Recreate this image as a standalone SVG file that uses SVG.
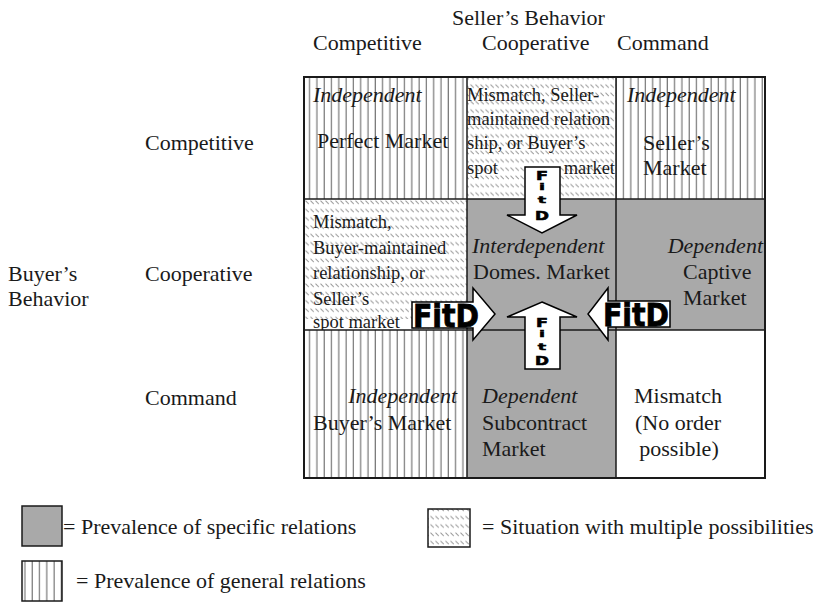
<svg xmlns="http://www.w3.org/2000/svg" width="829" height="604" viewBox="0 0 829 604">
<defs>
<style>
.t{font-family:"Liberation Serif","Times New Roman",serif;font-size:22px;fill:#1a1a1a}
.s{font-family:"Liberation Serif","Times New Roman",serif;font-size:18.5px;fill:#1a1a1a}
.i{font-style:italic}
.grid{fill:none;stroke:#1a1a1a;stroke-width:1.5}
.arrow{fill:#fff;stroke:#000;stroke-width:1.5;stroke-linejoin:miter}
.fitd{font-family:"DejaVu Sans","Liberation Sans",sans-serif;font-weight:bold;fill:#000;stroke:#000;stroke-width:0.8}
.gray{fill:#a9a9a9}
.vert{fill:url(#vlines)}
.hatch{fill:url(#hatch)}
</style>
<pattern id="vlines" patternUnits="userSpaceOnUse" width="7.3" height="10">
<rect width="7.3" height="10" fill="#fff"/>
<line x1="3" y1="0" x2="3" y2="10" stroke="#6a6a6a" stroke-width="1.1"/>
</pattern>
<pattern id="hatch" patternUnits="userSpaceOnUse" width="5" height="8.3">
<rect width="5" height="8.3" fill="#fff"/>
<line x1="0.5" y1="1.5" x2="3.8" y2="4.8" stroke="#9a9a9a" stroke-width="1"/>
</pattern>
</defs>
<rect width="829" height="604" fill="#fff"/>

<g id="headers">
<text class="t" x="452" y="25">Seller’s Behavior</text>
<text class="t" x="313" y="50">Competitive</text>
<text class="t" x="482" y="50">Cooperative</text>
<text class="t" x="617" y="50">Command</text>
<text class="t" x="145" y="150">Competitive</text>
<text class="t" x="145" y="281">Cooperative</text>
<text class="t" x="145" y="405">Command</text>
<text class="t" x="8" y="281">Buyer’s</text>
<text class="t" x="8" y="306">Behavior</text>
</g>

<g id="cell-perfect-market">
<rect class="vert" x="304" y="77" width="163" height="122"/>
<text class="t i" x="313" y="102">Independent</text>
<text class="t" x="317" y="148">Perfect Market</text>
</g>

<g id="cell-seller-mismatch">
<rect class="hatch" x="467" y="77" width="149" height="122"/>
<text class="s" x="467" y="101">Mismatch, Seller-</text>
<text class="s" x="467" y="125">maintained relation</text>
<text class="s" x="467" y="149">ship, or Buyer’s</text>
<text class="s" x="467" y="174">spot</text>
<text class="s" x="615" y="174" text-anchor="end">market</text>
</g>

<g id="cell-sellers-market">
<rect class="vert" x="616" y="77" width="149" height="122"/>
<text class="t i" x="627" y="102">Independent</text>
<text class="t" x="643" y="150">Seller’s</text>
<text class="t" x="643" y="175">Market</text>
</g>

<g id="cell-buyer-mismatch">
<rect class="hatch" x="304" y="199" width="163" height="131"/>
<rect x="305" y="319" width="107" height="10" fill="#fff"/>
<text class="s" x="313" y="228">Mismatch,</text>
<text class="s" x="313" y="254">Buyer-maintained</text>
<text class="s" x="313" y="279">relationship, or</text>
<text class="s" x="313" y="305">Seller’s</text>
<text class="s" x="313" y="328">spot market</text>
</g>

<g id="cell-domestic-market">
<rect class="gray" x="467" y="199" width="149" height="131"/>
<text class="t i" x="472" y="253">Interdependent</text>
<text class="t" x="473" y="279">Domes. Market</text>
</g>

<g id="cell-captive-market">
<rect class="gray" x="616" y="199" width="149" height="131"/>
<text class="t i" x="763" y="253" text-anchor="end">Dependent</text>
<text class="t" x="683" y="279">Captive</text>
<text class="t" x="683" y="305">Market</text>
</g>

<g id="cell-buyers-market">
<rect class="vert" x="304" y="330" width="163" height="148"/>
<text class="t i" x="457" y="403" text-anchor="end">Independent</text>
<text class="t" x="313" y="430">Buyer’s Market</text>
</g>

<g id="cell-subcontract-market">
<rect class="gray" x="467" y="330" width="149" height="148"/>
<text class="t i" x="482" y="403">Dependent</text>
<text class="t" x="482" y="430">Subcontract</text>
<text class="t" x="482" y="456">Market</text>
</g>

<g id="cell-no-order">
<rect x="616" y="330" width="149" height="148" fill="#fff"/>
<text class="t" x="678" y="403" text-anchor="middle">Mismatch</text>
<text class="t" x="678" y="430" text-anchor="middle">(No order</text>
<text class="t" x="679" y="456" text-anchor="middle">possible)</text>
</g>

<g id="grid-lines">
<line class="grid" x1="467" y1="77" x2="467" y2="478"/>
<line class="grid" x1="616" y1="77" x2="616" y2="478"/>
<line class="grid" x1="304" y1="199" x2="765" y2="199"/>
<line class="grid" x1="304" y1="330" x2="765" y2="330"/>
<rect x="304" y="77" width="461" height="401" fill="none" stroke="#1a1a1a" stroke-width="2"/>
</g>

<g id="connectors">
<g id="arrow-down">
<polygon class="arrow" points="525,167 560,167 560,215 577,215 542,233 507,215 525,215"/>
<text class="fitd" font-size="16" text-anchor="middle" transform="translate(542,180) scale(1.1,0.8)">F</text>
<text class="fitd" font-size="16" text-anchor="middle" transform="translate(542,190) scale(1.1,0.5)">i</text>
<text class="fitd" font-size="16" text-anchor="middle" transform="translate(542,203) scale(1.1,0.6)">t</text>
<text class="fitd" font-size="16" text-anchor="middle" transform="translate(542,220) scale(1.05,0.8)">D</text>
</g>
<g id="arrow-up">
<polygon class="arrow" points="542,302 577,317 560,317 560,369 525,369 525,317 507,317"/>
<text class="fitd" font-size="16" text-anchor="middle" transform="translate(542,327) scale(1.1,0.8)">F</text>
<text class="fitd" font-size="16" text-anchor="middle" transform="translate(542,337) scale(1.1,0.5)">i</text>
<text class="fitd" font-size="16" text-anchor="middle" transform="translate(542,350) scale(1.1,0.6)">t</text>
<text class="fitd" font-size="16" text-anchor="middle" transform="translate(542,365) scale(1.05,0.8)">D</text>
</g>
<g id="arrow-right">
<polygon class="arrow" points="412,302 473,302 473,288 495,314 473,340 473,328 412,328"/>
<text class="fitd" font-size="32" x="413" y="327" textLength="66" lengthAdjust="spacingAndGlyphs">FitD</text>
</g>
<g id="arrow-left">
<polygon class="arrow" points="670,301 608,301 608,288 588,314 608,340 608,327 670,327"/>
<text class="fitd" font-size="32" x="603" y="326" textLength="66" lengthAdjust="spacingAndGlyphs">FitD</text>
</g>
</g>

<g id="legend-specific">
<rect class="gray" x="22" y="506" width="40" height="40" stroke="#1a1a1a" stroke-width="1.5"/>
<text class="t" x="63" y="534">= Prevalence of specific relations</text>
</g>
<g id="legend-general">
<rect class="vert" x="22" y="561" width="40" height="40" stroke="#1a1a1a" stroke-width="1.5"/>
<text class="t" x="76" y="588">= Prevalence of general relations</text>
</g>
<g id="legend-multiple">
<rect class="hatch" x="428" y="509" width="42" height="38" stroke="#1a1a1a" stroke-width="1.5"/>
<text class="t" x="482" y="534">=<tspan x="500">Situation with multiple possibilities</tspan></text>
</g>
</svg>
